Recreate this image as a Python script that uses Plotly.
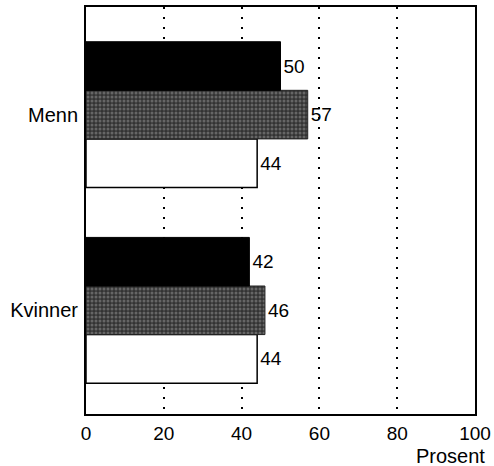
import plotly.graph_objects as go

categories = ["Kvinner", "Menn"]
series_black = [42, 50]
series_gray = [46, 57]
series_white = [44, 44]
x_ticks = [0, 20, 40, 60, 80, 100]

font_family = "Liberation Sans, Arial, Helvetica, sans-serif"
num_size = 19

fig = go.Figure()
# first trace sits lowest within each group
fig.add_trace(go.Bar(
    y=categories, x=series_white, orientation="h",
    marker=dict(color="white", line=dict(color="black", width=1.5)),
    text=[str(v) for v in series_white], textposition="outside",
    textfont=dict(size=num_size, color="black", family=font_family),
    cliponaxis=False, showlegend=False,
))
fig.add_trace(go.Bar(
    y=categories, x=series_gray, orientation="h",
    marker=dict(color="#333333", line=dict(color="#222222", width=1),
                pattern=dict(shape=".", fgcolor="#999999", bgcolor="#333333",
                             size=4, solidity=0.45)),
    text=[str(v) for v in series_gray], textposition="outside",
    textfont=dict(size=num_size, color="black", family=font_family),
    cliponaxis=False, showlegend=False,
))
fig.add_trace(go.Bar(
    y=categories, x=series_black, orientation="h",
    marker=dict(color="black", line=dict(color="black", width=1)),
    text=[str(v) for v in series_black], textposition="outside",
    textfont=dict(size=num_size, color="black", family=font_family),
    cliponaxis=False, showlegend=False,
))

fig.update_layout(
    width=494, height=466,
    margin=dict(l=86, r=19, t=7, b=52, autoexpand=False),
    barmode="group", bargap=0.255, bargroupgap=0,
    plot_bgcolor="white", paper_bgcolor="white",
    font=dict(family=font_family, color="black", size=num_size),
    xaxis=dict(
        range=[0, 100], tickvals=x_ticks, ticktext=[str(t) for t in x_ticks],
        showgrid=True, gridcolor="black", gridwidth=2, griddash="2px,8px",
        showline=True, linecolor="black", linewidth=2, mirror=True,
        ticks="", zeroline=False, tickfont=dict(size=num_size),
        automargin=False, ticklabelstandoff=1,
    ),
    yaxis=dict(
        type="category", categoryorder="array", categoryarray=categories,
        range=[-0.53, 1.55],
        showline=True, linecolor="black", linewidth=2, mirror=True,
        ticks="", showgrid=False, tickfont=dict(size=20),
        automargin=False, ticklabelstandoff=2,
    ),
    annotations=[dict(
        text="Prosent", x=1.03, xref="paper", y=-0.102, yref="paper",
        xanchor="right", yanchor="middle", showarrow=False,
        font=dict(size=20, color="black", family=font_family),
    )],
)

fig.write_html(
    "out.html",
    config={"displayModeBar": False},
    post_script="document.body.style.margin='0px';document.body.style.overflow='hidden';",
)
